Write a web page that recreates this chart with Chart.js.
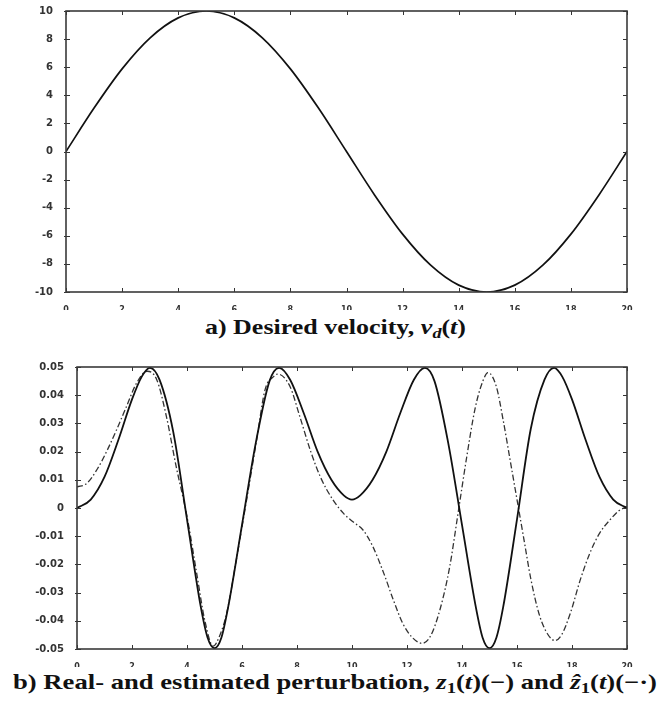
<!DOCTYPE html>
<html><head><meta charset="utf-8">
<script src="https://cdn.jsdelivr.net/npm/chart.js@4.4.1/dist/chart.umd.min.js"></script>
<style>
body{margin:0;background:#fff;width:663px;height:703px;position:relative;overflow:hidden}
canvas{position:absolute;left:0}
.cap{position:absolute;white-space:nowrap;font-family:"Liberation Serif","DejaVu Serif",serif;font-weight:bold;font-size:21px;color:#111;transform-origin:0 0;line-height:1}
.m{font-style:italic}
.cap sub{font-size:0.7em;vertical-align:-0.25em;line-height:0}
</style>
</head><body>
<canvas id="c1" width="663" height="310" style="top:0"></canvas>
<div class="cap" id="capA">a) Desired velocity, <span class="m">v</span><sub class="m">d</sub>(<span class="m">t</span>)</div>
<canvas id="c2" width="663" height="317" style="top:350px"></canvas>
<div class="cap" id="capB">b) Real- and estimated perturbation, <span class="m">z</span><sub>1</sub>(<span class="m">t</span>)(−) and <span class="m">ẑ</span><sub>1</sub>(<span class="m">t</span>)(−·)</div>
<script>
// ---- data ----
const tA = [0,1,2,3,4,5,6,7,8,9,10,11,12,13,14,15,16,17,18,19,20];
const vd = [0,3.09,5.88,8.09,9.51,10,9.51,8.09,5.88,3.09,0,-3.09,-5.88,-8.09,-9.51,-10,-9.51,-8.09,-5.88,-3.09,0];

const tZ = [0,0.5,1.0,1.5,2.0,2.35,2.65,3.0,3.5,4.0,4.5,4.75,5.0,5.25,5.5,6.0,6.5,7.0,7.35,7.75,8.25,8.75,9.25,9.7,10.0,10.3,10.75,11.25,11.75,12.25,12.65,13.0,13.5,14.0,14.5,14.75,15.0,15.25,15.5,16.0,16.5,17.0,17.35,17.65,18.0,18.5,19.0,19.5,20.0];
const z1 = [0,0.003,0.011,0.024,0.0385,0.0465,0.0497,0.0455,0.027,-0.004,-0.035,-0.046,-0.0497,-0.046,-0.035,-0.006,0.023,0.045,0.0497,0.0455,0.0335,0.020,0.010,0.0045,0.003,0.0045,0.010,0.020,0.0335,0.0455,0.0497,0.045,0.023,-0.006,-0.035,-0.046,-0.0497,-0.046,-0.035,-0.004,0.028,0.0455,0.0497,0.0465,0.0385,0.024,0.011,0.003,0];

const tZh = [0,0.35,0.75,1.1,1.45,1.8,2.15,2.55,2.9,3.25,3.6,4.0,4.35,4.65,4.95,5.2,5.45,5.8,6.17,6.53,6.84,7.15,7.3,7.75,8.1,8.5,8.85,9.3,9.7,10.05,10.4,10.75,11.15,11.5,11.85,12.2,12.55,12.85,13.2,13.55,13.87,14.17,14.47,14.72,14.95,15.25,15.5,15.75,16.0,16.25,16.5,16.8,17.1,17.38,17.62,17.95,18.3,18.65,19.0,19.4,19.7,20.0];
const z1hat = [0.0075,0.0087,0.014,0.0205,0.028,0.036,0.044,0.0485,0.0455,0.0325,0.015,-0.003,-0.023,-0.040,-0.049,-0.045,-0.037,-0.018,0.003,0.024,0.042,0.0466,0.0475,0.043,0.0325,0.020,0.011,0.003,-0.002,-0.005,-0.0078,-0.0135,-0.023,-0.0325,-0.041,-0.046,-0.048,-0.0455,-0.036,-0.021,-0.001,0.018,0.035,0.044,0.048,0.043,0.031,0.017,0.003,-0.011,-0.025,-0.0375,-0.0445,-0.047,-0.045,-0.037,-0.0255,-0.016,-0.009,-0.004,-0.001,0.0005];

const xTicks = [0,2,4,6,8,10,12,14,16,18,20];
const yTicksA = [-10,-8,-6,-4,-2,0,2,4,6,8,10];
const yTicksB = [-0.05,-0.04,-0.03,-0.02,-0.01,0,0.01,0.02,0.03,0.04,0.05];

// ---- helpers ----
const frameTicks = {
  id:'frameTicks',
  afterDraw(chart){
    const {ctx, chartArea:a, scales:{x,y}} = chart;
    ctx.save();
    ctx.strokeStyle='#333'; ctx.lineWidth=1;
    const L=4;
    ctx.beginPath();
    x.ticks.forEach(t=>{const p=Math.round(x.getPixelForValue(t.value))+0.5;
      ctx.moveTo(p,a.bottom); ctx.lineTo(p,a.bottom-L); ctx.moveTo(p,a.top); ctx.lineTo(p,a.top+L);});
    y.ticks.forEach(t=>{const p=Math.round(y.getPixelForValue(t.value))+0.5;
      ctx.moveTo(a.left-2,p); ctx.lineTo(a.left+L,p); ctx.moveTo(a.right,p); ctx.lineTo(a.right-L,p);});
    ctx.stroke();
    ctx.lineWidth=1.6; ctx.strokeStyle='#3a3a3a';
    ctx.strokeRect(a.left,a.top,a.right-a.left,a.bottom-a.top);
    ctx.restore();
  }
};
const yFont = {family:'"DejaVu Sans", sans-serif', size:10, weight:'bold'};
const xFont = {family:'"DejaVu Sans", sans-serif', size:8, weight:'bold'};
function fmt(v){ return Number(v.toFixed(2)).toString(); }
function makeScales(xmin,xmax,ymin,ymax,xt,yt,yWidth){
  return {
    x:{type:'linear',min:xmin,max:xmax,
       afterBuildTicks:s=>{s.ticks=xt.map(v=>({value:v}));},
       afterFit:s=>{s.height=18;},
       grid:{display:false},border:{display:false},
       ticks:{font:xFont,color:'#333',padding:5,maxRotation:0,autoSkip:false,callback:v=>fmt(v)}},
    y:{type:'linear',min:ymin,max:ymax,
       afterBuildTicks:s=>{s.ticks=yt.map(v=>({value:v}));},
       afterFit:s=>{s.width=yWidth;},
       grid:{display:false},border:{display:false},
       ticks:{font:yFont,color:'#333',padding:5,autoSkip:false,callback:v=>fmt(v)}}
  };
}
const common = {responsive:false,animation:false,devicePixelRatio:1,
  plugins:{legend:{display:false},tooltip:{enabled:false}},
  elements:{point:{radius:0}}};

new Chart(document.getElementById('c1'),{
  type:'line',
  data:{datasets:[{data:tA.map((t,i)=>({x:t,y:vd[i]})),borderColor:'#111',borderWidth:1.7,
    cubicInterpolationMode:'monotone',fill:false}]},
  options:Object.assign({},common,{
    layout:{padding:{top:10,right:36,left:0,bottom:0}},
    scales:makeScales(0,20,-10,10,xTicks,yTicksA,66)}),
  plugins:[frameTicks]
});

new Chart(document.getElementById('c2'),{
  type:'line',
  data:{datasets:[
    {data:tZ.map((t,i)=>({x:t,y:z1[i]})),borderColor:'#111',borderWidth:1.8,cubicInterpolationMode:'monotone',fill:false},
    {data:tZh.map((t,i)=>({x:t,y:z1hat[i]})),borderColor:'#333',borderWidth:1.3,borderDash:[6,2.5,1.5,2.5],cubicInterpolationMode:'monotone',fill:false}
  ]},
  options:Object.assign({},common,{
    layout:{padding:{top:17,right:36,left:0,bottom:0}},
    scales:makeScales(0,20,-0.05,0.05,xTicks,yTicksB,77)}),
  plugins:[frameTicks]
});

function fitCap(id,left,right,top){
  const el=document.getElementById(id);
  el.style.left=left+'px'; el.style.top=top+'px';
  const w=el.getBoundingClientRect().width;
  el.style.transform='scaleX('+((right-left)/w)+')';
}
fitCap('capA',205,466,317);
fitCap('capB',13,657,672);
</script>
</body></html>
